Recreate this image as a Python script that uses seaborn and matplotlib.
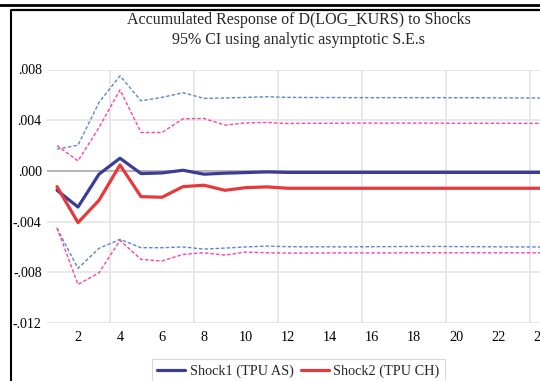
import numpy as np
import pandas as pd
import matplotlib
matplotlib.use("Agg")
import matplotlib.pyplot as plt
from matplotlib.lines import Line2D
import seaborn as sns

periods = list(range(1, 25))
shock1 = [-1.53, -2.85, -0.26, 1.00, -0.21, -0.16, 0.05, -0.26, -0.18, -0.13, -0.08, -0.12,
          -0.12, -0.12, -0.12, -0.12, -0.12, -0.12, -0.12, -0.12, -0.12, -0.12, -0.12, -0.12]
shock1_hi = [1.72, 2.03, 5.40, 7.50, 5.53, 5.80, 6.17, 5.72, 5.75, 5.80, 5.85, 5.80,
             5.79, 5.79, 5.78, 5.78, 5.78, 5.78, 5.78, 5.77, 5.77, 5.76, 5.76, 5.75]
shock1_lo = [-4.53, -7.69, -6.11, -5.40, -6.06, -6.06, -6.00, -6.17, -6.09, -6.00, -5.93, -5.98,
             -5.99, -5.99, -5.99, -5.98, -5.97, -5.96, -5.96, -5.97, -5.98, -5.99, -6.00, -6.00]
shock2 = [-1.24, -4.08, -2.32, 0.47, -2.03, -2.08, -1.24, -1.13, -1.53, -1.32, -1.26, -1.37,
          -1.37, -1.37, -1.37, -1.37, -1.37, -1.37, -1.37, -1.37, -1.37, -1.37, -1.37, -1.37]
shock2_hi = [2.00, 0.79, 3.42, 6.40, 3.03, 3.03, 4.11, 4.14, 3.61, 3.79, 3.82, 3.74,
             3.76, 3.76, 3.77, 3.77, 3.77, 3.77, 3.77, 3.76, 3.76, 3.76, 3.75, 3.75]
shock2_lo = [-4.48, -8.96, -8.04, -5.48, -6.98, -7.11, -6.59, -6.46, -6.64, -6.40, -6.46, -6.48,
             -6.48, -6.47, -6.47, -6.47, -6.47, -6.46, -6.46, -6.46, -6.46, -6.46, -6.46, -6.46]

yticks = [0.008, 0.004, 0.0, -0.004, -0.008, -0.012]
ytick_labels = [".008", ".004", ".000", "-.004", "-.008", "-.012"]
xticks = list(range(2, 25, 2))

sns.set_theme(style="white")
plt.rcParams["font.family"] = ["Liberation Serif", "DejaVu Serif"]

fig = plt.figure(figsize=(5.4, 3.81), dpi=100)
ax = fig.add_axes([46.5 / 540, 1 - 323 / 381, 504 / 540, 253.5 / 381])

df = pd.DataFrame({"period": periods,
                   "s1": np.array(shock1) / 1000, "s1h": np.array(shock1_hi) / 1000,
                   "s1l": np.array(shock1_lo) / 1000, "s2": np.array(shock2) / 1000,
                   "s2h": np.array(shock2_hi) / 1000, "s2l": np.array(shock2_lo) / 1000})

blue = "#3a3c98"
red = "#e8383c"
lblue = "#5b86d4"
pink = "#ff40a8"

# grid
ax.set_xticks(xticks)
ax.set_xticks([3.5, 7.5, 11.5, 15.5, 19.5, 23.5], minor=True)
ax.grid(False)
ax.xaxis.grid(True, which="minor", color="#e4e4e4", lw=1.2)
ax.set_yticks(yticks)
ax.set_yticklabels(ytick_labels)
ax.yaxis.grid(True, which="major", color="#e4e4e4", lw=1.2)
ax.axhline(0, color="#b4b4b4", lw=1.4, zorder=1)

kw = dict(ax=ax, legend=False)
sns.lineplot(data=df, x="period", y="s1h", color=lblue, lw=1.0, **kw)
sns.lineplot(data=df, x="period", y="s1l", color=lblue, lw=1.0, **kw)
sns.lineplot(data=df, x="period", y="s2h", color=pink, lw=1.0, **kw)
sns.lineplot(data=df, x="period", y="s2l", color=pink, lw=1.0, **kw)
for ln in ax.lines[-4:]:
    ln.set_dashes((2.5, 1.5))
sns.lineplot(data=df, x="period", y="s1", color=blue, lw=2.3, **kw)
sns.lineplot(data=df, x="period", y="s2", color=red, lw=2.3, **kw)

ax.set_xlim(0.5, 24.5)
ax.set_ylim(-0.012, 0.008)
ax.set_xlabel("")
ax.set_ylabel("")
for s in ax.spines.values():
    s.set_visible(False)
ax.tick_params(axis="both", which="both", length=0, labelsize=10, colors="black")
ax.tick_params(axis="x", labelsize=10.3, pad=6)
ax.tick_params(axis="y", pad=3.5)
for t in ax.get_yticklabels():
    t.set_horizontalalignment("right")

fig.text(298.5 / 540, 1 - 20 / 381, "Accumulated Response of D(LOG_KURS) to Shocks",
         ha="center", va="center", fontsize=11.5)
fig.text(298.5 / 540, 1 - 40 / 381, "95% CI using analytic asymptotic S.E.s",
         ha="center", va="center", fontsize=11.5)

handles = [Line2D([], [], color=blue, lw=2.3), Line2D([], [], color=red, lw=2.3)]
leg = fig.legend(handles, ["Shock1 (TPU AS)", "Shock2 (TPU CH)"], loc="upper center",
                 bbox_to_anchor=(298.5 / 540, 1 - 359 / 381), ncol=2, fontsize=10.3,
                 frameon=True, fancybox=False, edgecolor="#d0d0d0", handlelength=1.95,
                 columnspacing=0.55, handletextpad=0.3, borderpad=0.4, borderaxespad=0)
leg.get_frame().set_linewidth(0.8)

# frame decorations
fig.add_artist(Line2D([0, 1], [1 - 5 / 381, 1 - 5 / 381], color="black", lw=2.0,
                      transform=fig.transFigure))
fig.add_artist(Line2D([11.5 / 540, 1], [1 - 9.5 / 381, 1 - 9.5 / 381], color="black", lw=1.6,
                      transform=fig.transFigure))
fig.add_artist(Line2D([11 / 540, 11 / 540], [1 - 9.5 / 381, 0], color="black", lw=1.5,
                      transform=fig.transFigure))

fig.savefig("out.png", dpi=100)
